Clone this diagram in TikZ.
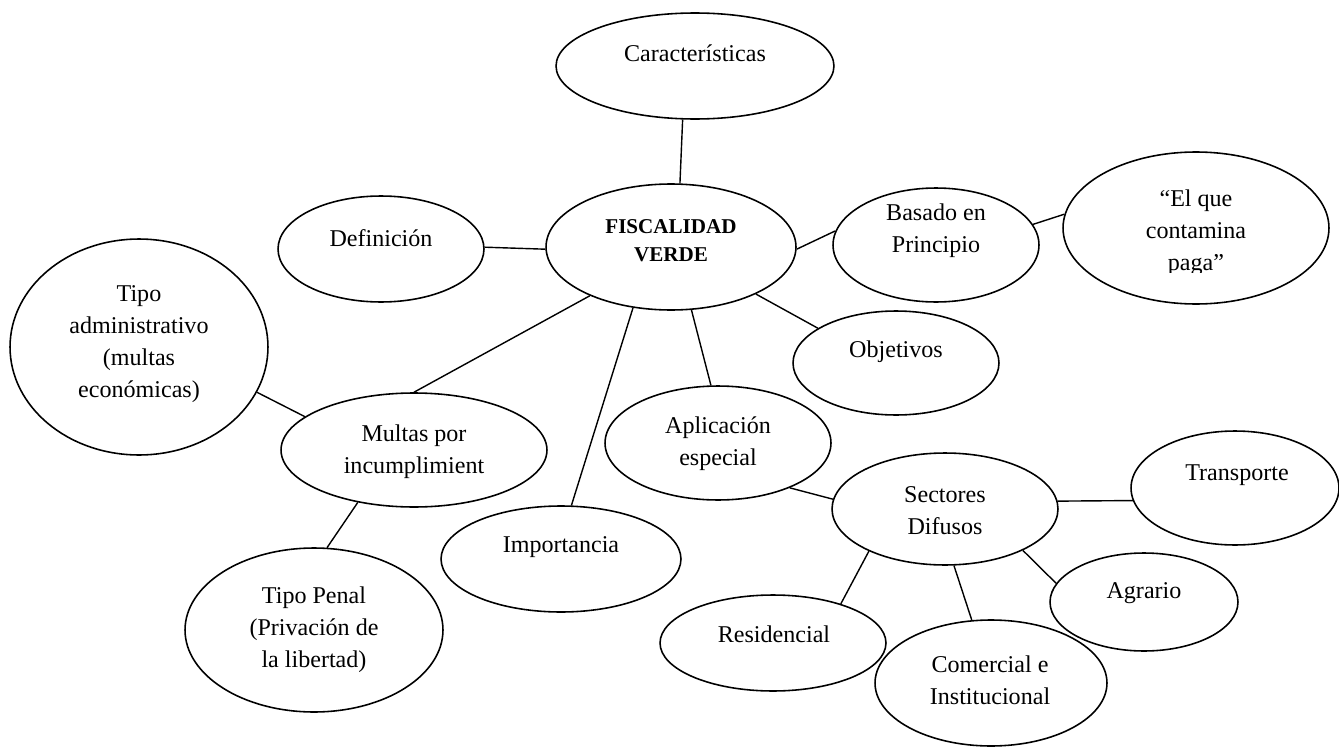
\documentclass[tikz,border=0pt]{standalone}
\usepackage{fontspec}
\setmainfont{Liberation Serif}
\usetikzlibrary{shapes.geometric}

\begin{document}
\begin{tikzpicture}[x=0.02cm, y=-0.02cm,
bub/.style={ellipse,draw,line width=0.9pt,inner sep=0pt},
txt/.style={align=center,inner sep=0pt,font=\fontsize{13.7}{18.2}\selectfont},
link/.style={line width=0.8pt}]
\useasboundingbox (0,0) rectangle (1339,747);

% centre
\node[bub, minimum width=5cm, minimum height=2.52cm] (fv) at (671,247) {};
\node[txt, font=\bfseries\fontsize{12}{16}\selectfont] (fv-t) at (671,241) {FISCALIDAD\\VERDE};

% first ring
\node[bub, minimum width=5.56cm, minimum height=2.12cm] (car) at (695,66) {};
\node[txt] (car-t) at (695,53) {Características};
\node[bub, minimum width=4.12cm, minimum height=2.12cm] (def) at (381,249) {};
\node[txt] (def-t) at (381,238) {Definición};
\node[bub, minimum width=4.12cm, minimum height=2.28cm] (bas) at (936,245) {};
\node[txt] (bas-t) at (936,231) {Basado en\\Principio};
\node[bub, minimum width=5.32cm, minimum height=3.04cm] (elq) at (1196,228) {};
\begin{scope}
\clip (1060,150) rectangle (1335,272);
\node[txt] (elq-t) at (1196,233) {“El que\\contamina\\paga”};
\end{scope}
\node[bub, minimum width=4.12cm, minimum height=2.08cm] (obj) at (896,363) {};
\node[txt] (obj-t) at (896,352) {Objetivos};
\node[bub, minimum width=5.32cm, minimum height=2.28cm] (mul) at (414,450) {};
\node[txt] (mul-t) at (414,452) {Multas por\\incumplimient};
\node[bub, minimum width=4.52cm, minimum height=2.28cm] (apl) at (718,443) {};
\node[txt] (apl-t) at (718,444) {Aplicación\\especial};
\node[bub, minimum width=4.8cm, minimum height=2.12cm] (imp) at (561,559) {};
\node[txt] (imp-t) at (561,547) {Importancia};

% multas
\node[bub, minimum width=5.16cm, minimum height=4.32cm] (tad) at (139,347) {};
\node[txt] (tad-t) at (139,344) {Tipo\\administrativo\\(multas\\económicas)};
\node[bub, minimum width=5.16cm, minimum height=3.28cm] (tpe) at (314,630) {};
\node[txt] (tpe-t) at (314,630) {Tipo Penal\\(Privación de\\la libertad)};

% sectores
\node[bub, minimum width=4.52cm, minimum height=2.24cm] (sec) at (945,509) {};
\node[txt] (sec-t) at (945,511) {Sectores\\Difusos};
\node[bub, minimum width=4.16cm, minimum height=2.28cm] (tra) at (1235,488) {};
\node[txt] (tra-t) at (1237,475) {Transporte};
\node[bub, minimum width=4.52cm, minimum height=1.92cm] (res) at (773,643) {};
\node[txt] (res-t) at (774,634) {Residencial};
\node[bub, minimum width=4.64cm, minimum height=2.52cm] (com) at (991,683) {};
\node[txt] (com-t) at (990,680) {Comercial e\\Institucional};
\node[bub, minimum width=3.76cm, minimum height=1.96cm] (agr) at (1144,602) {};
\node[txt] (agr-t) at (1144,593) {Agrario};

\foreach \a/\b in {car.-103/fv.82, def.1/fv.181, fv.-1/bas.172, bas.12/elq.174,
  fv.-29/obj.156, fv.211/mul.90, fv.238/imp.79, fv.288/apl.97,
  tad.-21/mul.163, mul.223/tpe.81, apl.-32/sec.175, sec.4/tra.187,
  sec.209/res.30, sec.279/com.107, sec.332/agr.168}
\draw[link] (\a) -- (\b);
\end{tikzpicture}
\end{document}
